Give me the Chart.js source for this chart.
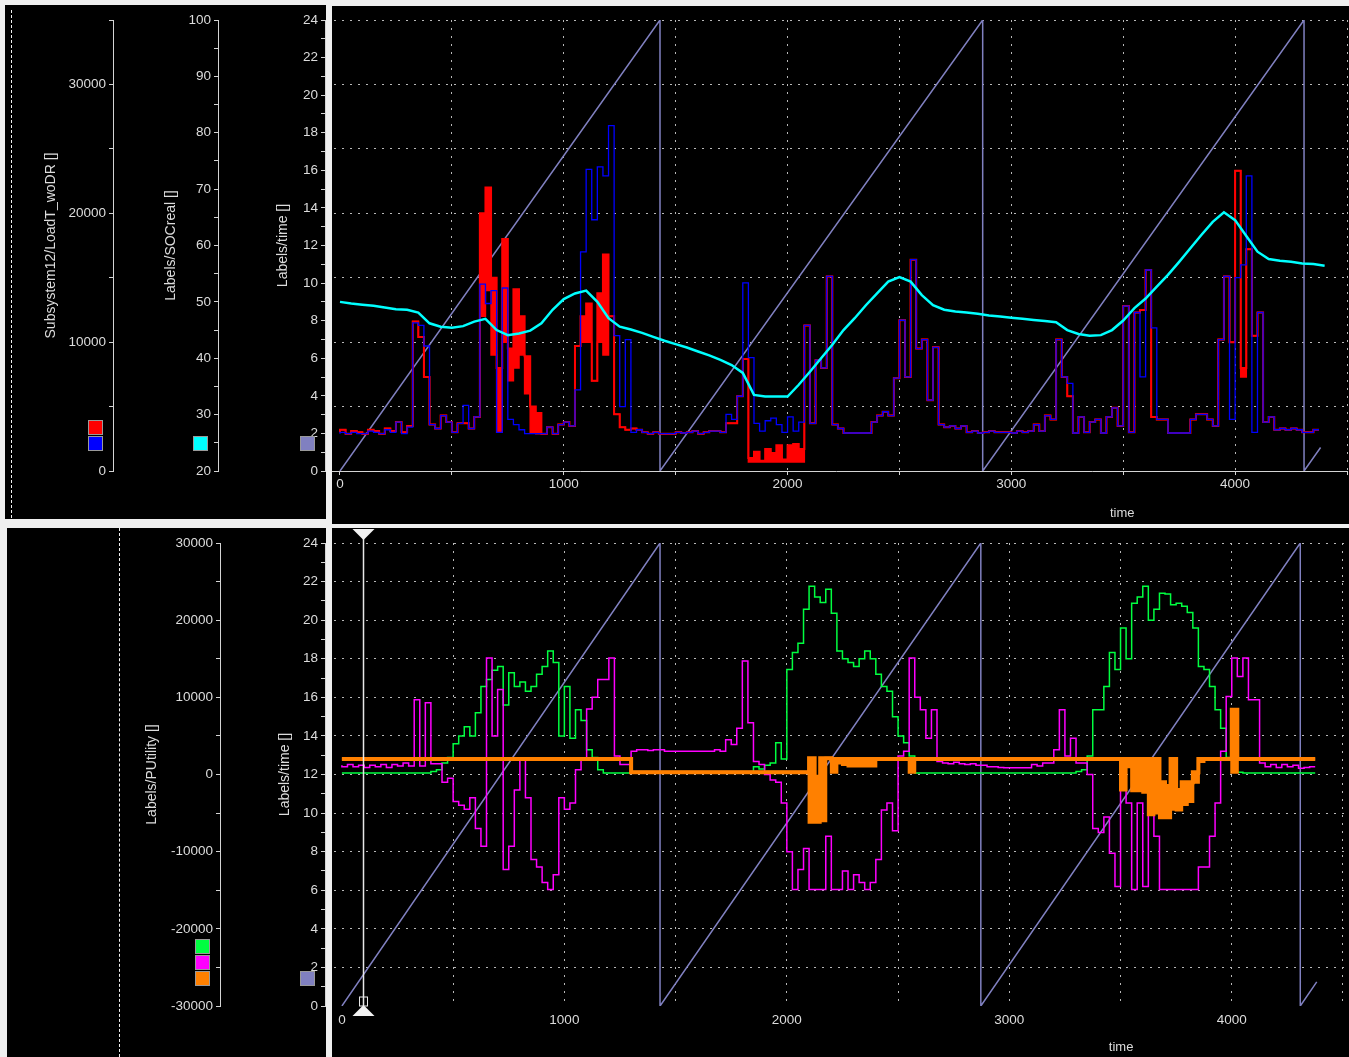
<!DOCTYPE html>
<html>
<head>
<meta charset="utf-8">
<title>LoadT / PUtility</title>
<script src="https://cdn.jsdelivr.net/npm/chart.js@4.4.1/dist/chart.umd.min.js"></script>
<style>
  body { margin: 0; background: #efefef; }
  #page { position: relative; width: 1349px; height: 1057px; overflow: hidden; }
  .box { position: absolute; background: #000; }
  .dash { position: absolute; width: 0; border-left: 1px dashed #f0f0f0; }
  canvas { position: absolute; left: 0; }
</style>
</head>
<body>
<div id="page">
  <div class="box" style="left:5px;top:5px;width:321px;height:514px"></div>
  <div class="box" style="left:332px;top:6px;width:1017px;height:518px"></div>
  <div class="box" style="left:7px;top:528px;width:319px;height:529px"></div>
  <div class="box" style="left:332px;top:528px;width:1017px;height:529px"></div>
  <div class="dash" style="left:11px;top:10px;height:508px"></div>
  <div class="dash" style="left:119px;top:528px;height:529px"></div>
  <canvas id="topChart" width="1349" height="526" style="top:0"></canvas>
  <canvas id="bottomChart" width="1349" height="531" style="top:526px"></canvas>
</div>
<script>
Chart.defaults.font.family = '"Liberation Sans", Arial, sans-serif';
Chart.defaults.font.size = 13.5;
Chart.defaults.color = '#dcdcdc';

const txt = '#dcdcdc';
const axisColor = '#d4d4d4';
const gridColor = '#b8b8b8';
const pageBg = '#efefef';

// logged signals, one sample every 25 time units
const step = 25;

const loadRed = [
  3000, 3200, 2900, 3100, 3000, 2900, 3200, 3100, 2900, 3300,
  3100, 3800, 3000, 3500, 11600, 10400, 7300, 3600, 3300, 4300,
  3800, 3000, 3700, 3700, 3300, 4200, 20000, 22000, 15000, 8000,
  18000, 9500, 14100, 12000, 8900, 5000, 4500, 2900, 3400, 2900,
  3600, 3800, 3500, 9700, 12000, 13000, 7000, 13800, 16800, 12000,
  4400, 3400, 3200, 3300, 3200, 3000, 2900, 3000, 2900, 2900,
  2900, 3000, 2950, 3000, 3100, 2900, 3000, 3100, 3100, 3000,
  3700, 3700, 5800, 8700, 1000, 1500, 800, 1700, 1400, 2000,
  900, 2000, 2100, 1700, 11300, 3700, 8600, 8000, 15100, 3600,
  3300, 2950, 2950, 2950, 2950, 2950, 3800, 4300, 4600, 4300,
  7200, 11700, 7300, 16400, 9500, 10200, 5500, 9600, 3600, 3400,
  3500, 3300, 3500, 3000, 3100, 2950, 3000, 3100, 3000, 3000,
  3000, 2950, 3100, 3000, 3100, 3600, 3100, 4300, 4000, 10200,
  7300, 5800, 2950, 4200, 3000, 3800, 4000, 2950, 4200, 4900,
  3500, 12800, 3000, 12300, 12500, 15600, 4200, 4000, 4000, 2950,
  2950, 2950, 2950, 4000, 4400, 4400, 4000, 3500, 10200, 15100,
  10000, 23300, 8000, 17200, 10500, 12300, 3800, 4200, 3200, 3300,
  3200, 3300, 3200, 3000, 3000, 3200
];

// lower edge of the red trace where it switches fast and looks filled
const loadRedLow = [
  3000, 3200, 2900, 3100, 3000, 2900, 3200, 3100, 2900, 3300,
  3100, 3800, 3000, 3500, 11600, 10400, 7300, 3600, 3300, 4300,
  3800, 3000, 3700, 3700, 3300, 4200, 12000, 14000, 9000, 3000,
  10000, 7000, 8000, 9000, 6000, 3000, 2900, 2900, 3400, 2900,
  3600, 3800, 3500, 9700, 10000, 10000, 7000, 10000, 9000, 12000,
  4400, 3400, 3200, 3300, 3200, 3000, 2900, 3000, 2900, 2900,
  2900, 3000, 2950, 3000, 3100, 2900, 3000, 3100, 3100, 3000,
  3700, 3700, 5800, 8700, 700, 700, 700, 700, 700, 700,
  700, 700, 700, 700, 11300, 3700, 8600, 8000, 15100, 3600,
  3300, 2950, 2950, 2950, 2950, 2950, 3800, 4300, 4600, 4300,
  7200, 11700, 7300, 16400, 9500, 10200, 5500, 9600, 3600, 3400,
  3500, 3300, 3500, 3000, 3100, 2950, 3000, 3100, 3000, 3000,
  3000, 2950, 3100, 3000, 3100, 3600, 3100, 4300, 4000, 10200,
  7300, 5800, 2950, 4200, 3000, 3800, 4000, 2950, 4200, 4900,
  3500, 12800, 3000, 12300, 12500, 15600, 4200, 4000, 4000, 2950,
  2950, 2950, 2950, 4000, 4400, 4400, 4000, 3500, 10200, 15100,
  10000, 23300, 7300, 17200, 10500, 12300, 3800, 4200, 3200, 3300,
  3200, 3300, 3200, 3000, 3000, 3200
];

const loadBlue = [
  2900, 3000, 2900, 3000, 2900, 2900, 3100, 3000, 2900, 3200,
  3000, 3800, 2900, 3400, 11500, 11300, 9700, 3600, 3300, 4300,
  3800, 3000, 3700, 5100, 3300, 4200, 14500, 13000, 14000, 3000,
  14200, 4000, 3600, 3200, 2900, 2900, 2900, 2900, 3400, 2900,
  3600, 3800, 3500, 6300, 17000, 23400, 19500, 23600, 22900, 26800,
  10500, 5000, 10200, 3000, 3200, 3000, 2900, 3000, 2900, 2900,
  2900, 3000, 2950, 3000, 3100, 2900, 3000, 3100, 3100, 3000,
  4400, 4000, 5800, 14600, 8800, 3700, 3100, 3900, 4100, 3600,
  3000, 4200, 3100, 3800, 11300, 3700, 8600, 8000, 15100, 3600,
  3300, 2950, 2950, 2950, 2950, 2950, 3800, 4300, 4600, 4300,
  7200, 11700, 7300, 16400, 9500, 10200, 5500, 9600, 3600, 3400,
  3500, 3300, 3500, 3000, 3100, 2950, 3000, 3100, 3000, 3000,
  3000, 2950, 3100, 3000, 3100, 3600, 3100, 4300, 4000, 10200,
  7300, 6800, 2950, 4200, 3000, 3800, 4000, 2950, 4200, 4900,
  3500, 12800, 3000, 12300, 7300, 15600, 11100, 4000, 4000, 2950,
  2950, 2950, 2950, 4000, 4400, 4400, 4000, 3500, 10200, 15100,
  4000, 15000, 16000, 22900, 3000, 12300, 3800, 4200, 3200, 3300,
  3200, 3300, 3200, 3000, 3000, 3200
];

// state of charge, one sample every 50 time units
const socStep = 50;
const socReal = [
  50.0, 49.7, 49.5, 49.3, 49.0, 48.7, 48.6, 48.1, 46.2, 45.6,
  45.4, 45.7, 46.5, 47.0, 45.0, 44.1, 44.4, 44.9, 46.2, 48.6,
  50.5, 51.5, 52.0, 50.0, 47.1, 45.6, 45.1, 44.5, 43.8, 43.1,
  42.5, 41.9, 41.2, 40.5, 39.7, 38.8, 37.4, 33.5, 33.2, 33.2,
  33.2, 35.3, 37.6, 40.0, 42.4, 45.0, 47.1, 49.4, 51.5, 53.6,
  54.4, 53.6, 51.2, 49.4, 48.6, 48.3, 48.1, 47.9, 47.6, 47.4,
  47.2, 47.0, 46.8, 46.6, 46.4, 45.0, 44.3, 44.0, 44.1, 45.0,
  46.7, 48.9, 50.6, 52.7, 54.8, 57.1, 59.5, 61.9, 64.2, 65.9,
  64.5, 61.7, 58.9, 57.6, 57.3, 57.1, 56.8, 56.7, 56.4
];

// Labels/time sawtooth, corner points
const rampT = [0, 1430, 1430, 2872, 2872, 4308, 4308, 4382];
const rampHour = [0, 24, 0, 24, 0, 24, 0, 1.25];

const pGreen = [
  200, 200, 200, 200, 200, 200, 200, 200, 200, 200,
  200, 200, 200, 200, 200, 200, 200, 400, 600, 1500,
  2200, 4000, 5000, 6200, 5000, 8000, 11400, 12300, 13500, 14000,
  9000, 13200, 11400, 12000, 10800, 11400, 13000, 14000, 16000, 14500,
  5000, 11400, 4700, 8400, 7000, 3200, 2200, 600, 200, 200,
  200, 200, 200, 200, 200, 200, 200, 200, 200, 200,
  200, 200, 200, 200, 200, 200, 200, 200, 200, 200,
  200, 200, 200, 200, 200, 1000, 700, 1200, 1500, 4100,
  2000, 13600, 15800, 17000, 21400, 24400, 23000, 22300, 24000, 20900,
  16000, 15000, 14500, 14000, 15000, 16000, 15000, 13000, 11400, 10800,
  7500, 5000, 4100, 2400, 200, 200, 200, 200, 200, 200,
  200, 200, 200, 200, 200, 200, 200, 200, 200, 200,
  200, 200, 200, 200, 200, 200, 200, 200, 200, 200,
  200, 200, 200, 400, 600, 2400, 8400, 8400, 11400, 15800,
  13600, 19000, 15000, 22200, 23000, 24400, 20000, 21400, 23500, 23400,
  22000, 22200, 21800, 21000, 19000, 14000, 13600, 11400, 8400, 6000,
  2200, 500, 300, 200, 200, 200, 200, 200, 200, 200,
  200, 200, 200, 200, 200, 200
];

const pMagenta = [
  1200, 1000, 1300, 1000, 1200, 900, 1200, 1000, 1300, 900,
  1300, 1100, 1500, 1100, 9700, 1100, 9300, 1400, 1400, -1000,
  -500, -3500, -4000, -4500, -3000, -7000, -9300, 15100, 5000, 11000,
  -12300, -9300, -2000, 2000, -3000, -11000, -12000, -14000, -14900, -13000,
  -3000, -4500, -3700, 600, 2000, 8500, 10000, 12300, 12300, 15100,
  2400, 1300, 1300, 3000, 3200, 3200, 3100, 3200, 3200, 3000,
  3000, 3000, 3000, 3000, 3000, 3000, 3000, 3000, 3200, 3000,
  4500, 3900, 6000, 14700, 6700, 1700, 1300, 0, -700, -1000,
  -3700, -10000, -14900, -12300, -9600, -14900, -14900, -14900, -8000, -14900,
  -14900, -12500, -14900, -13000, -14000, -14900, -14000, -11000, -4600, -3700,
  -7300, 2400, 3000, 15100, 10000, 8400, 4700, 8400, 1700, 1500,
  1400, 1600, 1400, 1300, 1400, 1200, 1200, 1000, 1000, 900,
  860, 860, 860, 860, 860, 1300, 1100, 1500, 1500, 3200,
  8400, 2400, 4700, 1500, 1500, 0, -7000, -7500, -5500, -10200,
  -14500, -2000, -3700, -14900, -3700, -14500, -3700, -8000, -14900, -14900,
  -14900, -14900, -14900, -14900, -14900, -12000, -12000, -8000, -3700, 3000,
  10100, 15100, 12700, 15100, 9700, 9700, 1500, 1000, 1300, 900,
  1300, 1000, 1200, 800, 900, 1000
];

// orange signal: upper trace and lower edge of its fast-switching band
const pOrange = [
  2000, 2000, 2000, 2000, 2000, 2000, 2000, 2000, 2000, 2000,
  2000, 2000, 2000, 2000, 2000, 2000, 2000, 2000, 2000, 2000,
  2000, 2000, 2000, 2000, 2000, 2000, 2000, 2000, 2000, 2000,
  2000, 2000, 2000, 2000, 2000, 2000, 2000, 2000, 2000, 2000,
  2000, 2000, 2000, 2000, 2000, 2000, 2000, 2000, 2000, 2000,
  2000, 2000, 2000, 300, 300, 300, 300, 300, 300, 300,
  300, 300, 300, 300, 300, 300, 300, 300, 300, 300,
  300, 300, 300, 300, 300, 300, 300, 300, 300, 300,
  300, 300, 300, 300, 300, 2100, -300, 2100, 2100, 2000,
  2000, 2000, 2000, 2000, 2000, 2000, 2000, 2000, 2000, 2000,
  2000, 2000, 2000, 2000, 2000, 2000, 2000, 2000, 2000, 2000,
  2000, 2000, 2000, 2000, 2000, 2000, 2000, 2000, 2000, 2000,
  2000, 2000, 2000, 2000, 2000, 2000, 2000, 2000, 2000, 2000,
  2000, 2000, 2000, 2000, 2000, 2000, 2000, 2000, 2000, 2000,
  2000, 2000, 2000, 2000, 2000, 2000, 2000, 2000, -1000, -1500,
  2000, -2000, -1000, -1000, 300, 2000, 2000, 2000, 2000, 2000,
  2000, 8400, 2000, 2000, 2000, 2000, 2000, 2000, 2000, 2000,
  2000, 2000, 2000, 2000, 2000, 2000
];

const pOrangeLow = [
  2000, 2000, 2000, 2000, 2000, 2000, 2000, 2000, 2000, 2000,
  2000, 2000, 2000, 2000, 2000, 2000, 2000, 2000, 2000, 2000,
  2000, 2000, 2000, 2000, 2000, 2000, 2000, 2000, 2000, 2000,
  2000, 2000, 2000, 2000, 2000, 2000, 2000, 2000, 2000, 2000,
  2000, 2000, 2000, 2000, 2000, 2000, 2000, 2000, 2000, 2000,
  2000, 2000, 2000, 300, 300, 300, 300, 300, 300, 300,
  300, 300, 300, 300, 300, 300, 300, 300, 300, 300,
  300, 300, 300, 300, 300, 300, 300, 300, 300, 300,
  300, 300, 300, 300, 300, -6200, -6200, -6000, 2100, 300,
  1500, 1300, 1100, 1100, 1100, 1100, 1100, 2000, 2000, 2000,
  2000, 2000, 2000, 300, 2000, 2000, 2000, 2000, 2000, 2000,
  2000, 2000, 2000, 2000, 2000, 2000, 2000, 2000, 2000, 2000,
  2000, 2000, 2000, 2000, 2000, 2000, 2000, 2000, 2000, 2000,
  2000, 2000, 2000, 2000, 2000, 2000, 2000, 2000, 2000, 2000,
  2000, -2000, 1000, -2100, -2100, -2300, -5200, -5000, -5600, -5600,
  -4500, -4600, -3900, -3500, -1000, 1700, 2000, 2000, 2000, 2000,
  2000, 300, 2000, 2000, 2000, 2000, 2000, 2000, 2000, 2000,
  2000, 2000, 2000, 2000, 2000, 2000
];

// tick values
const xTickValues = [0, 500, 1000, 1500, 2000, 2500, 3000, 3500, 4000, 4500];
const xLabels = [0, 1000, 2000, 3000, 4000];
const loadLabels = [0, 10000, 20000, 30000];
const socLabels = [20, 30, 40, 50, 60, 70, 80, 90, 100];
const hourLabels = [0, 2, 4, 6, 8, 10, 12, 14, 16, 18, 20, 22, 24];
const pLabels = [-30000, -20000, -10000, 0, 10000, 20000, 30000];

function pts(values, dx) {
  return values.map((v, i) => ({ x: i * dx, y: v }));
}
function pairs(xs, ys) {
  return xs.map((x, i) => ({ x: x, y: ys[i] }));
}

const panelDecor = {
  id: 'panelDecor',
  afterDraw(chart, args, o) {
    const { ctx, chartArea: ca } = chart;
    ctx.save();
    // strip between the axis box and the plot box
    ctx.fillStyle = pageBg;
    ctx.fillRect(o.gap[0], 0, o.gap[1] - o.gap[0], chart.height);

    // colour keys under each y axis
    const groups = {};
    chart.data.datasets.forEach(ds => {
      if (ds.key === false) return;
      (groups[ds.yAxisID] = groups[ds.yAxisID] || []).push(ds.borderColor);
    });
    Object.keys(groups).forEach(id => {
      const s = chart.scales[id];
      const cols = groups[id];
      cols.forEach((c, j) => {
        const y = s.bottom - 19 - (cols.length - j) * 16;
        const x = s.right - 25;
        ctx.fillStyle = c;
        ctx.fillRect(x, y, 15, 15);
        ctx.strokeStyle = '#9a9a9a';
        ctx.lineWidth = 1;
        ctx.strokeRect(x + 0.5, y + 0.5, 14, 14);
      });
    });

    // x axis title
    ctx.fillStyle = txt;
    ctx.font = '13px "Liberation Sans", Arial, sans-serif';
    ctx.textAlign = 'center';
    ctx.textBaseline = 'middle';
    ctx.fillText(o.xTitle, ca.left + ca.width * 0.78, ca.bottom + o.titleDy);

    // cursor
    if (o.cursorX != null) {
      const x = Math.round(chart.scales.x.getPixelForValue(o.cursorX)) + 0.5;
      ctx.strokeStyle = '#e8e8e8';
      ctx.lineWidth = 1.5;
      ctx.beginPath();
      ctx.moveTo(x, ca.top - 9);
      ctx.lineTo(x, ca.bottom + 6);
      ctx.stroke();
      ctx.fillStyle = '#f2f2f2';
      ctx.beginPath();
      ctx.moveTo(x - 11, ca.top - 14);
      ctx.lineTo(x + 11, ca.top - 14);
      ctx.lineTo(x, ca.top - 3);
      ctx.closePath();
      ctx.fill();
      ctx.beginPath();
      ctx.moveTo(x - 11, ca.bottom + 10);
      ctx.lineTo(x + 11, ca.bottom + 10);
      ctx.lineTo(x, ca.bottom - 1);
      ctx.closePath();
      ctx.fill();
      ctx.lineWidth = 1;
      ctx.strokeRect(x - 4, ca.bottom - 9, 8, 9);
    }
    ctx.restore();
  }
};

function yAxis(o) {
  return {
    position: 'left',
    weight: o.weight,
    min: o.min,
    max: o.max,
    afterFit: s => { s.width = o.width; },
    ticks: {
      stepSize: o.step,
      autoSkip: false,
      maxTicksLimit: 1000,
      padding: 3,
      color: txt,
      callback: v => o.labels.includes(v) ? String(v) : ''
    },
    grid: {
      drawOnChartArea: !!o.grid,
      color: c => (o.hide || []).includes(c.tick && c.tick.value) ? 'rgba(0,0,0,0)' : gridColor,
      tickColor: axisColor,
      tickLength: 4,
      lineWidth: 1
    },
    border: { color: axisColor, width: 1, dash: [2, 6] },
    title: {
      display: true,
      text: o.title,
      color: txt,
      font: { size: 14 },
      padding: { top: o.pad, bottom: 0 }
    }
  };
}

function xAxis(o) {
  return {
    type: 'linear',
    min: o.min,
    max: o.max,
    afterBuildTicks: s => { s.ticks = xTickValues.map(v => ({ value: v })); },
    afterFit: s => { s.height = o.height; },
    ticks: {
      autoSkip: false,
      maxRotation: 0,
      padding: o.padding,
      color: txt,
      callback: v => xLabels.includes(v) ? String(v) : ''
    },
    grid: {
      color: c => (c.tick && c.tick.value > 0) ? gridColor : 'rgba(0,0,0,0)',
      tickColor: axisColor,
      drawTicks: o.drawTicks,
      tickLength: 4,
      lineWidth: 1
    },
    border: { display: o.border, color: axisColor, width: 1, dash: [2, 6] }
  };
}

const lineBase = { pointRadius: 0, fill: false, tension: 0, borderJoinStyle: 'miter' };

new Chart(document.getElementById('topChart'), {
  type: 'line',
  data: {
    datasets: [
      Object.assign({ label: 'Labels/time', data: pairs(rampT, rampHour), yAxisID: 'yTime',
        borderColor: '#8080c0', borderWidth: 1.5, order: 5 }, lineBase),
      Object.assign({ label: 'LoadT_woDR', data: pts(loadRed, step), yAxisID: 'yLoad',
        borderColor: '#ff0000', borderWidth: 2, stepped: 'after', order: 3 }, lineBase),
      Object.assign({}, lineBase, { label: 'LoadT_woDR band', data: pts(loadRedLow, step), yAxisID: 'yLoad',
        borderColor: '#ff0000', backgroundColor: '#ff0000', borderWidth: 1.5, stepped: 'after',
        fill: '-1', order: 4, key: false }),
      Object.assign({ label: 'LoadT', data: pts(loadBlue, step), yAxisID: 'yLoad',
        borderColor: '#0000ff', borderWidth: 1.3, stepped: 'after', order: 2 }, lineBase),
      Object.assign({ label: 'SOCreal', data: pts(socReal, socStep), yAxisID: 'ySoc',
        borderColor: '#00ffff', borderWidth: 2.5, order: 1 }, lineBase)
    ]
  },
  options: {
    responsive: false,
    animation: false,
    events: [],
    layout: { padding: { left: 5, right: 2, top: 20, bottom: 0 } },
    plugins: {
      legend: { display: false },
      tooltip: { enabled: false },
      panelDecor: { gap: [326, 332], xTitle: 'time', titleDy: 42, cursorX: null }
    },
    scales: {
      x: xAxis({ min: -67, max: 4500, height: 55, padding: 1, drawTicks: true, border: true }),
      yLoad: yAxis({ weight: 3, min: 0, max: 35000, step: 5000, width: 108, labels: loadLabels,
        grid: true, hide: [0], title: 'Subsystem12/LoadT_woDR []', pad: 38 }),
      ySoc: yAxis({ weight: 2, min: 20, max: 100, step: 5, width: 105, labels: socLabels,
        title: 'Labels/SOCreal []', pad: 50 }),
      yTime: yAxis({ weight: 1, min: 0, max: 24, step: 1, width: 107, labels: hourLabels,
        title: 'Labels/time []', pad: 57 })
    }
  },
  plugins: [panelDecor]
});

new Chart(document.getElementById('bottomChart'), {
  type: 'line',
  data: {
    datasets: [
      Object.assign({ label: 'Labels/time', data: pairs(rampT, rampHour), yAxisID: 'yTime',
        borderColor: '#8080c0', borderWidth: 1.5, order: 5 }, lineBase),
      Object.assign({ label: 'PV', data: pts(pGreen, step), yAxisID: 'yPU',
        borderColor: '#00ff40', borderWidth: 1.5, stepped: 'after', order: 4 }, lineBase),
      Object.assign({ label: 'PUtility', data: pts(pMagenta, step), yAxisID: 'yPU',
        borderColor: '#ff00ff', borderWidth: 1.5, stepped: 'after', order: 3 }, lineBase),
      Object.assign({ label: 'PBattery', data: pts(pOrange, step), yAxisID: 'yPU',
        borderColor: '#ff8000', borderWidth: 4, stepped: 'after', order: 1 }, lineBase),
      Object.assign({}, lineBase, { label: 'PBattery band', data: pts(pOrangeLow, step), yAxisID: 'yPU',
        borderColor: '#ff8000', backgroundColor: '#ff8000', borderWidth: 3, stepped: 'after',
        fill: '-1', order: 2, key: false })
    ]
  },
  options: {
    responsive: false,
    animation: false,
    events: [],
    layout: { padding: { left: 7, right: 2, top: 17, bottom: 0 } },
    plugins: {
      legend: { display: false },
      tooltip: { enabled: false },
      panelDecor: { gap: [326, 332], xTitle: 'time', titleDy: 41, cursorX: 94 }
    },
    scales: {
      x: xAxis({ min: -76, max: 4512, height: 51, padding: 6, drawTicks: false, border: false }),
      yPU: yAxis({ weight: 2, min: -30000, max: 30000, step: 5000, width: 213, labels: pLabels,
        grid: true, hide: [-30000], title: 'Labels/PUtility []', pad: 137 }),
      yTime: yAxis({ weight: 1, min: 0, max: 24, step: 1, width: 105, labels: hourLabels,
        title: 'Labels/time []', pad: 57 })
    }
  },
  plugins: [panelDecor]
});
</script>
</body>
</html>
